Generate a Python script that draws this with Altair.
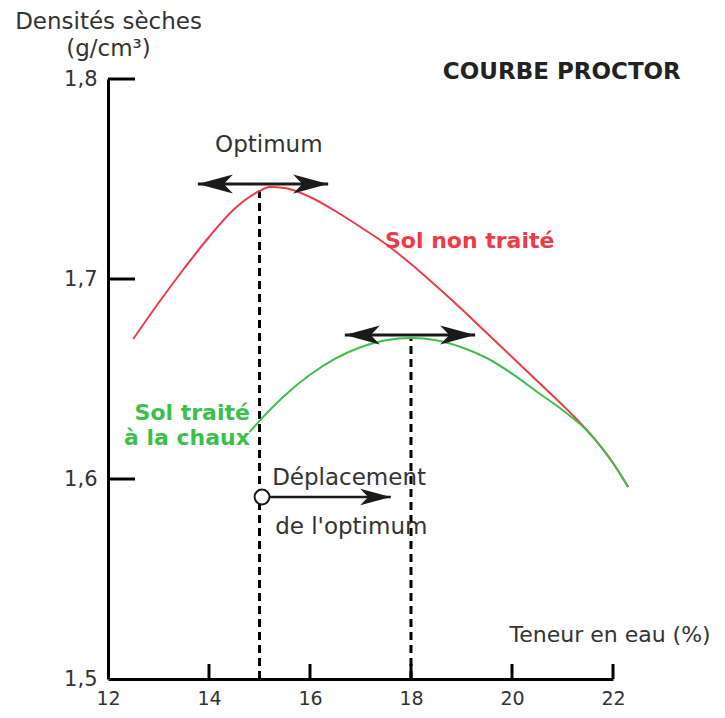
import altair as alt
import pandas as pd

# ---- data ----
red_x = [12.5, 13.0, 13.5, 14.0, 14.5, 15.0, 15.2, 15.5, 16.0, 16.5, 17.0, 17.5,
         18.0, 18.5, 19.0, 19.5, 20.0, 20.5, 21.0, 21.5, 22.0, 22.3]
red_y = [1.670, 1.688, 1.705, 1.721, 1.735, 1.744, 1.746, 1.7455, 1.741, 1.734,
         1.726, 1.7175, 1.7075, 1.6965, 1.685, 1.673, 1.661, 1.649, 1.637,
         1.624, 1.608, 1.596]
green_x = [14.8, 15.0, 15.5, 16.0, 16.5, 17.0, 17.5, 18.0, 18.5, 19.0, 19.5, 20.0,
           20.5, 21.0, 21.5, 22.0, 22.3]
green_y = [1.6234, 1.6291, 1.6418, 1.6521, 1.6602, 1.6659, 1.6694, 1.6705, 1.6694,
           1.6659, 1.6605, 1.6527, 1.6435, 1.6345, 1.6238, 1.608, 1.596]

opt_x = [15.0, 18.0]
opt_y = [1.7445, 1.6705]

arrow_x1 = [13.78, 16.69]
arrow_x2 = [16.36, 19.27]
arrow_y = [1.7475, 1.672]

move_x1 = [15.05]
move_x2 = [17.6]
move_y = [1.591]

x_ticks = [12, 14, 16, 18, 20, 22]
y_ticks = [1.5, 1.6, 1.7, 1.8]

labels_gray = ["Optimum", "Déplacement", "de l'optimum"]
labels_gray_x = [14.12, 15.25, 15.31]
labels_gray_y = [1.767, 1.6005, 1.576]

labels_red = ["Sol non traité"]
labels_red_x = [17.485]
labels_red_y = [1.719]

labels_green = ["Sol traité", "à la chaux"]
labels_green_x = [14.81, 14.81]
labels_green_y = [1.633, 1.6205]

title_text = ["COURBE PROCTOR"]
title_x = [18.63]
title_y = [1.8035]

# ---- tables ----
curves = pd.concat([
    pd.DataFrame({"x": red_x, "y": red_y, "s": "red"}),
    pd.DataFrame({"x": green_x, "y": green_y, "s": "green"}),
])
opt = pd.DataFrame({"x": opt_x, "y": opt_y, "y0": [y_ticks[0]] * len(opt_x)})
arrows = pd.DataFrame({"x1": arrow_x1, "x2": arrow_x2, "y": arrow_y})
move = pd.DataFrame({"x1": move_x1, "x2": move_x2, "y": move_y})
left_heads = pd.DataFrame({"x": arrow_x1, "y": arrow_y})
right_heads = pd.DataFrame({"x": arrow_x2, "y": arrow_y})
move_head = pd.DataFrame({"x": move_x2, "y": move_y})
move_start = pd.DataFrame({"x": move_x1, "y": move_y})
xt = pd.DataFrame({"v": x_ticks[1:]})
yt = pd.DataFrame({"v": y_ticks[1:]})
tg = pd.DataFrame({"t": labels_gray, "x": labels_gray_x, "y": labels_gray_y})
tr = pd.DataFrame({"t": labels_red, "x": labels_red_x, "y": labels_red_y})
tgr = pd.DataFrame({"t": labels_green, "x": labels_green_x, "y": labels_green_y})
tt = pd.DataFrame({"t": title_text, "x": title_x, "y": title_y})

FONT = "DejaVu Sans"
GRAY = "#333333"
RED = "#ee3b46"
GREEN = "#3dbf4c"
INK = "#1a1a1a"

xs = alt.Scale(domain=[12, 22], nice=False, zero=False)
ys = alt.Scale(domain=[1.5, 1.8], nice=False, zero=False)

x_axis = alt.Axis(values=x_ticks, ticks=False, grid=False, domainWidth=3,
                  domainColor="black", labelColor=GRAY, labelFontSize=19,
                  labelFont=FONT, labelPadding=10, labelFlush=False,
                  title="Teneur en eau (%)", titleFont=FONT, titleFontSize=22,
                  titleFontWeight="normal", titleColor=GRAY, titleX=401,
                  titleY=-45, titleAlign="left", titleBaseline="middle")
y_axis = alt.Axis(values=y_ticks, ticks=False, grid=False, domainWidth=3,
                  domainColor="black", labelColor=GRAY, labelFontSize=21,
                  labelFont=FONT, labelPadding=11, labelFlush=False,
                  labelExpr="replace(format(datum.value, '.1f'), '.', ',')",
                  title=["Densités sèches", "(g/cm³)"], titleFont=FONT,
                  titleFontSize=23, titleFontWeight="normal", titleColor=GRAY,
                  titleAngle=0, titleX=0, titleY=-69, titleAlign="center",
                  titleBaseline="top", titleLineHeight=27)

base_axes = alt.Chart(curves).mark_line(opacity=0).encode(
    x=alt.X("x:Q", scale=xs, axis=x_axis),
    y=alt.Y("y:Q", scale=ys, axis=y_axis),
    detail="s:N",
)

dashed = alt.Chart(opt).mark_rule(color="black", strokeWidth=3, strokeDash=[8, 5]).encode(
    x="x:Q", y="y0:Q", y2="y:Q")

red_line = alt.Chart(curves).transform_filter("datum.s == 'red'").mark_line(
    color=RED, strokeWidth=2, interpolate="monotone").encode(x="x:Q", y="y:Q")
green_line = alt.Chart(curves).transform_filter("datum.s == 'green'").mark_line(
    color=GREEN, strokeWidth=2, interpolate="monotone").encode(x="x:Q", y="y:Q")

shafts = alt.Chart(arrows).mark_rule(color=INK, strokeWidth=3).encode(
    x="x1:Q", x2="x2:Q", y="y:Q")
LEFT = "M0,0 L2.5,-0.68 L1.85,0 L2.5,0.68 Z"
RIGHT = "M0,0 L-2.5,-0.68 L-1.85,0 L-2.5,0.68 Z"
lh = alt.Chart(left_heads).mark_point(shape=LEFT, filled=True, size=784,
                                      color=INK, opacity=1).encode(x="x:Q", y="y:Q")
rh = alt.Chart(right_heads).mark_point(shape=RIGHT, filled=True, size=784,
                                       color=INK, opacity=1).encode(x="x:Q", y="y:Q")

move_shaft = alt.Chart(move).mark_rule(color=INK, strokeWidth=2.5).encode(
    x="x1:Q", x2="x2:Q", y="y:Q")
mh = alt.Chart(move_head).mark_point(shape=RIGHT, filled=True, size=600,
                                     color=INK, opacity=1).encode(x="x:Q", y="y:Q")
ms = alt.Chart(move_start).mark_point(shape="circle", filled=True, size=220,
                                      fill="white", stroke=INK, strokeWidth=2,
                                      opacity=1).encode(x="x:Q", y="y:Q")

xtick_layer = alt.Chart(xt).mark_rule(color="black", strokeWidth=3).encode(
    x="v:Q", y=alt.value(600), y2=alt.value(585))
ytick_layer = alt.Chart(yt).mark_rule(color="black", strokeWidth=3).encode(
    y="v:Q", x=alt.value(0), x2=alt.value(27))

text_gray = alt.Chart(tg).mark_text(font=FONT, fontSize=23, color=GRAY, align="left",
                                    baseline="middle").encode(x="x:Q", y="y:Q", text="t:N")
text_red = alt.Chart(tr).mark_text(font=FONT, fontSize=22, fontWeight="bold",
                                   color=RED, align="left",
                                   baseline="middle").encode(x="x:Q", y="y:Q", text="t:N")
text_green = alt.Chart(tgr).mark_text(font=FONT, fontSize=22, fontWeight="bold",
                                      color=GREEN, align="right",
                                      baseline="middle").encode(x="x:Q", y="y:Q", text="t:N")
text_title = alt.Chart(tt).mark_text(font=FONT, fontSize=23, fontWeight="bold",
                                     color="#222222", align="left",
                                     baseline="middle").encode(x="x:Q", y="y:Q", text="t:N")

chart = alt.layer(
    base_axes, dashed, red_line, green_line, shafts, lh, rh, move_shaft, mh, ms,
    xtick_layer, ytick_layer, text_gray, text_red, text_green, text_title,
).properties(
    width=505, height=600,
    autosize=alt.AutoSizeParams(type="none"),
    padding={"left": 100, "top": 71, "right": 101, "bottom": 31},
    background="white",
).configure_view(stroke=None)

chart.save("out.html", embed_options={"renderer": "svg", "actions": False})
